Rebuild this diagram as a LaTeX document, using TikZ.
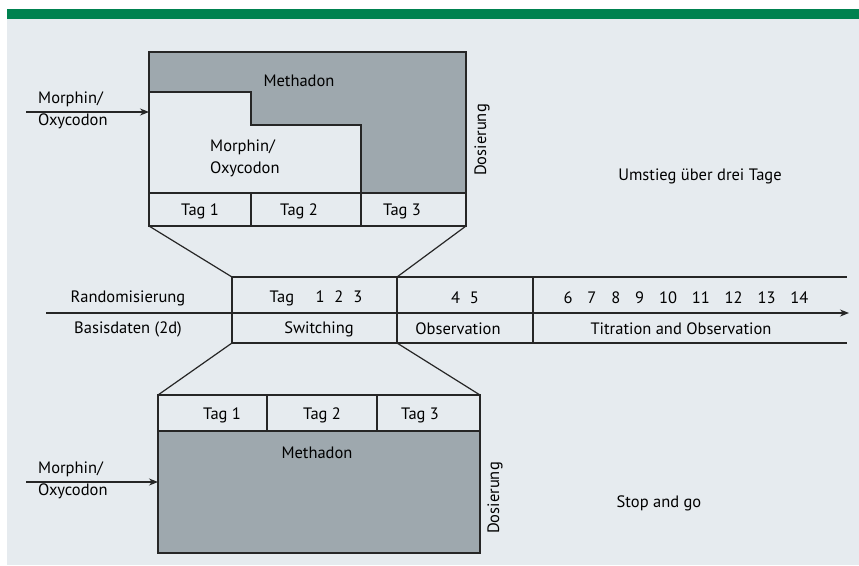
\documentclass[tikz,border=0pt]{standalone}
\usepackage{fontspec}
\setmainfont{PT Sans}
\usetikzlibrary{arrows.meta}
\definecolor{bg}{RGB}{230,235,239}
\definecolor{grn}{RGB}{0,130,80}
\definecolor{gry}{RGB}{158,168,174}
\begin{document}
\begin{tikzpicture}[x=1pt,y=-1pt,
  lab/.style={font=\fontsize{16.5}{22}\selectfont, inner sep=0pt, anchor=center},
  ln/.style={line width=1.2pt, draw=black!85},
  arr/.style={line width=1.2pt, draw=black!85, -{Stealth[length=9pt,width=7pt]}}]
\useasboundingbox (0,0) rectangle (859,565);
\fill[bg] (7,9) rectangle (859,565);
\fill[grn] (7,9) rectangle (859,19);

% ---- top box ----
\fill[gry] (149,52) rectangle (466,193);
\fill[bg] (149,92) -- (251,92) -- (251,125) -- (361,125) -- (361,193) -- (149,193) -- cycle;
\draw[ln] (149,92) -- (251,92) -- (251,125) -- (361,125) -- (361,193);
\draw[ln] (149,52) rectangle (466,226);
\draw[ln] (149,193) -- (466,193);
\draw[ln] (251,193) -- (251,226);
\draw[ln] (361,193) -- (361,226);
\coordinate (tbl) at (149,226);
\coordinate (tbr) at (466,226);
\coordinate (tin) at (149,112);
\coordinate (tsrc) at (26,112);
\node[lab] (tmeth) at (299,81) {Methadon};
\node[lab, align=left, anchor=west] (tmo) at (210,158) {Morphin/\\Oxycodon};
\node[lab] (tt1) at (200,211) {Tag 1};
\node[lab] (tt2) at (299,211) {Tag 2};
\node[lab] (tt3) at (402,211) {Tag 3};
\node[lab, rotate=90] (tdos) at (482,140) {Dosierung};
\node[lab, align=left, anchor=west] (tin1) at (38,110) {Morphin/\\Oxycodon};
\draw[arr] (tsrc) -- (tin);
\node[lab] (umst) at (700,176) {Umstieg über drei Tage};

% ---- timeline ----
\coordinate (mtl) at (232,277);
\coordinate (mtr) at (847,277);
\coordinate (mbl) at (232,343);
\coordinate (mbr) at (847,343);
\coordinate (mtr2) at (397,277);
\coordinate (mbr2) at (397,343);
\coordinate (astart) at (46,313);
\coordinate (aend) at (849,313);
\draw[ln] (mtl) -- (mtr);
\draw[ln] (mbl) -- (mbr);
\draw[arr] (astart) -- (aend);
\draw[ln] (mtl) -- (mbl);
\draw[ln] (mtr2) -- (mbr2);
\draw[ln] (533,277) -- (533,343);
\node[lab] (rand) at (128,298) {Randomisierung};
\node[lab] (basis) at (128,329) {Basisdaten (2d)};
\node[lab] (tag123) at (316,298) {Tag\hspace{1.3em}1\hspace{0.6em}2\hspace{0.6em}3};
\node[lab] (sw) at (319,329) {Switching};
\node[lab] (d45) at (465,298) {4\hspace{0.6em}5};
\node[lab] (obs) at (458,329) {Observation};
\node[lab] (d614) at (686,298) {6\hspace{0.9em}7\hspace{0.9em}8\hspace{0.9em}9\hspace{0.9em}10\hspace{0.9em}11\hspace{0.9em}12\hspace{0.9em}13\hspace{0.9em}14};
\node[lab] (tit) at (681,329) {Titration and Observation};

% ---- bottom box ----
\fill[gry] (158,431) rectangle (480,553);
\draw[ln] (158,395) rectangle (480,553);
\draw[ln] (158,431) -- (480,431);
\draw[ln] (267,395) -- (267,431);
\draw[ln] (377,395) -- (377,431);
\coordinate (btl) at (158,395);
\coordinate (btr) at (480,395);
\coordinate (bin) at (158,482);
\coordinate (bsrc) at (26,482);
\node[lab] (bt1) at (222,415) {Tag 1};
\node[lab] (bt2) at (322,415) {Tag 2};
\node[lab] (bt3) at (420,415) {Tag 3};
\node[lab] (bmeth) at (317,453) {Methadon};
\node[lab, rotate=90] (bdos) at (495,498) {Dosierung};
\node[lab, align=left, anchor=west] (bin1) at (38,480) {Morphin/\\Oxycodon};
\draw[arr] (bsrc) -- (bin);
\node[lab] (stop) at (659,503) {Stop and go};

% ---- trapezoid connectors ----
\draw[ln] (tbl) -- (mtl);
\draw[ln] (tbr) -- (mtr2);
\draw[ln] (mbl) -- (btl);
\draw[ln] (mbr2) -- (btr);
\end{tikzpicture}
\end{document}
